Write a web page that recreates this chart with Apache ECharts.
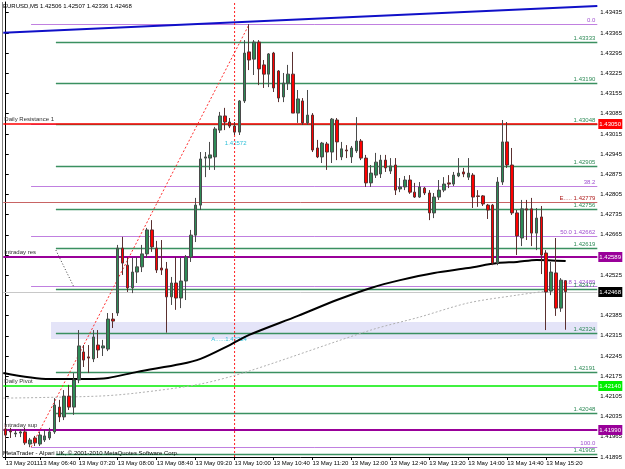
<!DOCTYPE html>
<html>
<head>
<meta charset="utf-8">
<script src="https://cdn.jsdelivr.net/npm/echarts@6/dist/echarts.min.js"></script>
<style>
html,body{margin:0;padding:0;background:#fff}
#main{width:625px;height:469px}
</style>
</head>
<body>
<div id="main"></div>
<script>
var chart = echarts.init(document.getElementById('main'));
var FONT = '6px "Liberation Sans", Arial, sans-serif';

var symbolName = 'EURUSD,M5';
var dayLabel = '13 May 2011';
var dayPrefix = '13 May ';
var barCount = 122;          // slots on the time axis (last ones empty = chart shift)
var firstMinute = 6 * 60 + 5; // 06:05
var lastLabelBar = 111;      // 15:20 is the last time printed

// M5 bars, [open, high, low, close]
var ohlc = [
 [1.41992,1.42006,1.41954,1.41971],[1.41985,1.41996,1.41961,1.41982],[1.41975,1.41989,1.41964,1.41978],
 [1.41978,1.41992,1.41964,1.41982],[1.41982,1.41996,1.41937,1.41944],[1.41940,1.41961,1.41929,1.41954],
 [1.41961,1.41968,1.41933,1.41944],[1.41940,1.41982,1.41933,1.41971],[1.41954,1.41989,1.41947,1.41968],
 [1.41961,1.41996,1.41954,1.41982],[1.41982,1.42099,1.41975,1.42075],[1.42068,1.42093,1.42016,1.42034],
 [1.42034,1.42127,1.42023,1.42106],[1.42106,1.42145,1.42058,1.42068],[1.42068,1.42186,1.42041,1.42162],
 [1.42162,1.42335,1.42151,1.42280],[1.42259,1.42283,1.42207,1.42231],[1.42242,1.42283,1.42186,1.42238],
 [1.42235,1.42335,1.42224,1.42311],[1.42283,1.42335,1.42238,1.42266],[1.42273,1.42301,1.42245,1.42280],
 [1.42269,1.42394,1.42262,1.42373],[1.42373,1.42394,1.42342,1.42366],[1.42394,1.42630,1.42384,1.42619],
 [1.42619,1.42658,1.42526,1.42567],[1.42560,1.42588,1.42467,1.42481],[1.42481,1.42585,1.42463,1.42536],
 [1.42536,1.42588,1.42498,1.42554],[1.42554,1.42630,1.42536,1.42599],[1.42599,1.42689,1.42585,1.42682],
 [1.42682,1.42716,1.42606,1.42623],[1.42619,1.42644,1.42533,1.42543],[1.42550,1.42647,1.42526,1.42543],
 [1.42547,1.42571,1.42326,1.42450],[1.42450,1.42519,1.42422,1.42498],[1.42498,1.42588,1.42405,1.42446],
 [1.42446,1.42585,1.42411,1.42505],[1.42505,1.42595,1.42439,1.42588],[1.42588,1.42682,1.42571,1.42664],
 [1.42664,1.42793,1.42640,1.42768],[1.42768,1.42952,1.42751,1.42928],[1.42931,1.42952,1.42865,1.42935],
 [1.42931,1.42987,1.42890,1.42942],[1.42935,1.43039,1.42890,1.43032],[1.43028,1.43091,1.43018,1.43077],
 [1.43077,1.43105,1.43028,1.43056],[1.43056,1.43070,1.43035,1.43042],[1.43042,1.43056,1.43011,1.43021],
 [1.43021,1.43132,1.43011,1.43129],[1.43129,1.43340,1.43122,1.43295],[1.43299,1.43395,1.43236,1.43271],
 [1.43274,1.43340,1.43219,1.43333],[1.43333,1.43340,1.43184,1.43240],[1.43254,1.43271,1.43174,1.43222],
 [1.43222,1.43295,1.43177,1.43292],[1.43295,1.43299,1.43160,1.43174],[1.43233,1.43236,1.43125,1.43139],
 [1.43143,1.43226,1.43125,1.43191],[1.43191,1.43254,1.43167,1.43222],[1.43222,1.43299,1.43087,1.43087],
 [1.43087,1.43167,1.43053,1.43136],[1.43129,1.43139,1.43046,1.43053],[1.43053,1.43167,1.43046,1.43080],
 [1.43080,1.43087,1.42952,1.42959],[1.42966,1.42994,1.42931,1.42935],[1.42935,1.42987,1.42914,1.42983],
 [1.42980,1.42987,1.42890,1.42952],[1.42952,1.43070,1.42914,1.43066],[1.43063,1.43070,1.42924,1.42987],
 [1.42935,1.42987,1.42924,1.42963],[1.42959,1.42976,1.42931,1.42956],[1.42935,1.42973,1.42914,1.42966],
 [1.42956,1.43073,1.42949,1.42990],[1.42990,1.42997,1.42924,1.42931],[1.42931,1.42942,1.42831,1.42845],
 [1.42845,1.42907,1.42831,1.42879],[1.42872,1.42949,1.42862,1.42917],[1.42876,1.42942,1.42862,1.42924],
 [1.42924,1.42942,1.42883,1.42897],[1.42886,1.42931,1.42876,1.42904],[1.42907,1.42931,1.42803,1.42820],
 [1.42824,1.42862,1.42813,1.42831],[1.42831,1.42869,1.42820,1.42855],[1.42855,1.42872,1.42807,1.42813],
 [1.42813,1.42845,1.42793,1.42796],[1.42796,1.42848,1.42793,1.42831],[1.42827,1.42831,1.42803,1.42810],
 [1.42810,1.42820,1.42716,1.42741],[1.42741,1.42810,1.42723,1.42796],[1.42796,1.42855,1.42786,1.42820],
 [1.42820,1.42865,1.42813,1.42841],[1.42845,1.42872,1.42827,1.42841],[1.42841,1.42883,1.42834,1.42872],
 [1.42869,1.42931,1.42865,1.42879],[1.42883,1.42897,1.42865,1.42876],[1.42865,1.42931,1.42855,1.42879],
 [1.42872,1.42879,1.42758,1.42796],[1.42800,1.42820,1.42762,1.42798],[1.42800,1.42803,1.42765,1.42772],
 [1.42768,1.42772,1.42720,1.42751],[1.42768,1.42772,1.42560,1.42567],[1.42567,1.42865,1.42560,1.42848],
 [1.42848,1.43063,1.42838,1.42987],[1.42987,1.43056,1.42897,1.42907],[1.42907,1.42966,1.42734,1.42741],
 [1.42741,1.42751,1.42595,1.42661],[1.42654,1.42786,1.42626,1.42755],[1.42755,1.42786,1.42647,1.42751],
 [1.42755,1.42793,1.42626,1.42671],[1.42671,1.42758,1.42612,1.42723],[1.42727,1.42765,1.42529,1.42595],
 [1.42602,1.42612,1.42335,1.42467],[1.42470,1.42571,1.42456,1.42536],[1.42533,1.42654,1.42384,1.42411],
 [1.42411,1.42515,1.42398,1.42508],[1.42506,1.42507,1.42336,1.42468]
];

// price scale ticks on the right
var yMin = 1.41895, yMax = 1.43472;
var yTicks = [1.41895,1.41965,1.42035,1.42105,1.42175,1.42245,1.42315,1.42385,1.42455,1.42525,
  1.42595,1.42665,1.42735,1.42805,1.42875,1.42945,1.43015,1.43085,1.43155,1.43225,1.43295,1.43365,1.43435];

// green levels (start bar, price)
var greenPrices = [1.43333,1.43190,1.43048,1.42905,1.42756,1.42619,1.42477,1.42324,1.42191,1.42048,1.41905];
var greenStart = 10.3;

// fibonacci retracement
var fibPrices = [1.43395,1.43049,1.42835,1.42662,1.42489,1.41929];
var fibLabels = ['0.0','','38.2','50.0 1.42662','61.8 1.42489','100.0'];
var fibStart = 5.2;
var fibAnchor = [[5.2,1.41929],[50,1.43395]];

// named levels
var keyNames  = ['Daily Resistance 1','Intraday res','Daily Pivot','Intraday sup'];
var keyPrices = [1.43050,1.42589,1.42140,1.41990];
var keyColors = ['#ff0000','#990099','#00ee00','#990099'];
var keyWidths = [1.5,2,1.5,2];
var eLevel = 1.42779;
var bidPrice = 1.42468;

// moving averages (bar index, price)
var maBlack = [[-0.5,1.42186],[9,1.42165],[17,1.42165],[21,1.42169],[27,1.42190],[36,1.42217],[40,1.42235],
  [46,1.42283],[50,1.42318],[60,1.42384],[68,1.42439],[75,1.42481],[81,1.42508],[88,1.42533],[95,1.42550],
  [101,1.42567],[105,1.42571],[109,1.42578],[115,1.42574]];
var maDotted = [[-0.5,1.42099],[19,1.42106],[27,1.42117],[40,1.42148],[50,1.42193],[75,1.42335],[85,1.42380],
  [95,1.42429],[105,1.42456],[111,1.42470]];
var blueTrend = [[-0.5,1.43365],[121.5,1.43458]];
var dotTrend = [[10.3,1.42612],[14,1.42484]];
var zoneBox = [9.3, 1.42363, 1.42304];
var vLineBar = 47;

// chart notes
var notes = [[45,1.42983,'1.42572'],[42.2,1.42304,'A......1.42324']];

function pad(n) { return (n < 10 ? '0' : '') + n; }
var times = [];
for (var i = 0; i < barCount; i++) {
  var m = firstMinute + i * 5;
  times.push(pad(Math.floor(m / 60)) + ':' + pad(m % 60));
}
var candles = ohlc.map(function (b) { return [b[0], b[3], b[2], b[1]]; });
var last = ohlc[ohlc.length - 1];

function showTime(idx) { return idx === 0 || (idx >= 7 && idx <= lastLabelBar && (idx - 7) % 8 === 0); }
function crisp(v, w) { return w % 2 === 1 ? Math.round(v) + 0.5 : Math.round(v); }

function levelSeries(prices, start, labels, color, textColor, width) {
  return {
    type: 'custom', xAxisIndex: 1, yAxisIndex: 0, silent: true, z: 3, clip: false,
    data: prices.map(function (p) { return [start, p]; }),
    renderItem: function (params, api) {
      var a = api.coord([api.value(0), api.value(1)]);
      var b = api.coord([barCount - 0.5, api.value(1)]);
      var y = crisp(a[1], 1);
      var kids = [{type: 'line', shape: {x1: a[0], y1: y, x2: b[0], y2: y},
        style: {stroke: color, lineWidth: width}}];
      var t = labels[params.dataIndex];
      if (t) kids.push({type: 'text', style: {text: t, x: b[0] - 2, y: y - 1, align: 'right',
        verticalAlign: 'bottom', fill: textColor, font: FONT}});
      return {type: 'group', children: kids};
    }
  };
}

var option = {
  animation: false,
  backgroundColor: '#fff',
  grid: {left: 3.3, right: 24.5, top: 2, bottom: 12},
  xAxis: [{
    type: 'category', data: times, boundaryGap: true,
    axisLine: {show: true, lineStyle: {color: '#000', width: 1}},
    axisTick: {show: true, alignWithLabel: true, length: 3, interval: showTime, lineStyle: {color: '#000'}},
    axisLabel: {interval: showTime, align: 'left', margin: 3, color: '#000', fontSize: 6,
      fontFamily: 'Liberation Sans',
      formatter: function (v, idx) { return idx === 0 ? dayLabel : dayPrefix + v; }},
    splitLine: {show: false}
  }, {
    type: 'value', min: -0.5, max: barCount - 0.5, show: false
  }],
  yAxis: {
    type: 'value', position: 'right', scale: true, min: yMin, max: yMax,
    axisLine: {show: true, lineStyle: {color: '#000'}},
    axisTick: {show: true, length: 3, customValues: yTicks, lineStyle: {color: '#000'}},
    axisLabel: {customValues: yTicks, margin: 3, color: '#000', fontSize: 6, fontFamily: 'Liberation Sans',
      formatter: function (v) { return v.toFixed(5); }},
    splitLine: {show: false}
  },
  graphic: [
    {type: 'text', left: 3, top: 3, z: 10, style: {
      text: symbolName + ' ' + last.map(function (v) { return v.toFixed(5); }).join(' '),
      font: FONT, fill: '#000'}},
    {type: 'text', left: 3, top: 450, z: 10, style: {
      text: 'MetaTrader - Alpari UK, \u00a9 2001-2010 MetaQuotes Software Corp.', font: FONT, fill: '#000'}},
    {type: 'line', shape: {x1: 2.5, y1: 2, x2: 2.5, y2: 457}, style: {stroke: '#808080', lineWidth: 1}}
  ],
  series: [
    { // highlighted zone
      type: 'line', xAxisIndex: 1, data: [], z: 1, silent: true,
      markArea: {silent: true, itemStyle: {color: '#e4e4f8'},
        data: [[{coord: [zoneBox[0], zoneBox[1]]}, {coord: [barCount - 0.5, zoneBox[2]]}]]}
    },
    { // bid line + E level
      type: 'custom', xAxisIndex: 1, silent: true, z: 2, clip: false,
      data: [[bidPrice, 0], [eLevel, 1]],
      renderItem: function (params, api) {
        var p = api.value(0), a = api.coord([-0.5, p]), b = api.coord([barCount - 0.5, p]);
        var y = crisp(a[1], 1);
        if (api.value(1) === 0) {
          return {type: 'line', shape: {x1: a[0], y1: y, x2: b[0], y2: y}, style: {stroke: '#c8c8c8', lineWidth: 1}};
        }
        return {type: 'group', children: [
          {type: 'line', shape: {x1: a[0], y1: y, x2: b[0], y2: y}, style: {stroke: '#c86464', lineWidth: 1}},
          {type: 'text', style: {text: 'E..... ' + p.toFixed(5), x: b[0] - 2, y: y - 1, align: 'right',
            verticalAlign: 'bottom', fill: '#b02020', font: FONT}}
        ]};
      }
    },
    levelSeries(fibPrices, fibStart, fibLabels, '#c080e0', '#a050d0', 1),
    levelSeries(greenPrices, greenStart, greenPrices.map(function (p) { return p.toFixed(5); }), '#3a9060', '#2e8b57', 1.5),
    { // named levels with their price boxes
      type: 'custom', xAxisIndex: 1, silent: true, z: 4, clip: false,
      data: keyPrices.map(function (p) { return [p]; }),
      renderItem: function (params, api) {
        var i = params.dataIndex, p = api.value(0);
        var a = api.coord([-0.5, p]), b = api.coord([barCount - 0.5, p]);
        var y = Math.round(a[1]);
        return {type: 'group', children: [
          {type: 'line', shape: {x1: a[0], y1: y, x2: b[0], y2: y}, style: {stroke: keyColors[i], lineWidth: keyWidths[i]}},
          {type: 'text', z2: 1, style: {text: keyNames[i], x: a[0] + 1, y: y - 2, verticalAlign: 'bottom',
            fill: '#303030', font: FONT}},
          {type: 'rect', shape: {x: b[0] + 1, y: y - 5, width: 24, height: 10}, style: {fill: keyColors[i]}},
          {type: 'text', style: {text: p.toFixed(5), x: b[0] + 2, y: y, verticalAlign: 'middle',
            fill: '#fff', font: FONT}}
        ]};
      }
    },
    { // chart notes
      type: 'custom', xAxisIndex: 1, silent: true, z: 4, clip: false,
      data: notes,
      renderItem: function (params, api) {
        var c = api.coord([api.value(0), api.value(1)]);
        return {type: 'text', style: {text: notes[params.dataIndex][2], x: c[0], y: c[1],
          verticalAlign: 'middle', fill: '#30c0d8', font: FONT}};
      }
    },
    {type: 'line', xAxisIndex: 1, data: blueTrend, symbol: 'none', silent: true, z: 4,
      lineStyle: {color: '#1010c8', width: 2}},
    {type: 'line', xAxisIndex: 1, data: fibAnchor, symbol: 'none', silent: true, z: 4,
      lineStyle: {color: '#ff3030', width: 1, type: [2, 2]}},
    {type: 'line', xAxisIndex: 1, data: dotTrend, symbol: 'none', silent: true, z: 4,
      lineStyle: {color: '#404040', width: 1, type: [1, 2]}},
    {type: 'line', xAxisIndex: 1, data: [[vLineBar, yMin], [vLineBar, yMax]], symbol: 'none', silent: true, z: 4,
      lineStyle: {color: '#ff2020', width: 1, type: [2, 2]}},
    {type: 'line', xAxisIndex: 1, data: maDotted, symbol: 'none', smooth: 0.3, silent: true, z: 4,
      lineStyle: {color: '#b0b0b0', width: 1, type: [2, 2]}},
    {type: 'line', xAxisIndex: 1, data: maBlack, symbol: 'none', smooth: 0.3, silent: true, z: 5,
      lineStyle: {color: '#000', width: 2}},
    {
      type: 'candlestick', data: candles, barWidth: 3, z: 6, silent: true,
      itemStyle: {color: '#2e8b57', color0: '#ff0000', borderColor: '#4a4a4a', borderColor0: '#5a3030', borderWidth: 1}
    },
    { // bid box on the price scale
      type: 'custom', xAxisIndex: 1, silent: true, z: 7, clip: false,
      data: [[bidPrice]],
      renderItem: function (params, api) {
        var b = api.coord([barCount - 0.5, api.value(0)]);
        var y = Math.round(b[1]);
        return {type: 'group', children: [
          {type: 'rect', shape: {x: b[0] + 1, y: y - 5, width: 24, height: 10}, style: {fill: '#000'}},
          {type: 'text', style: {text: api.value(0).toFixed(5), x: b[0] + 2, y: y, verticalAlign: 'middle',
            fill: '#fff', font: FONT}}
        ]};
      }
    }
  ]
};
chart.setOption(option);
</script>
</body>
</html>
